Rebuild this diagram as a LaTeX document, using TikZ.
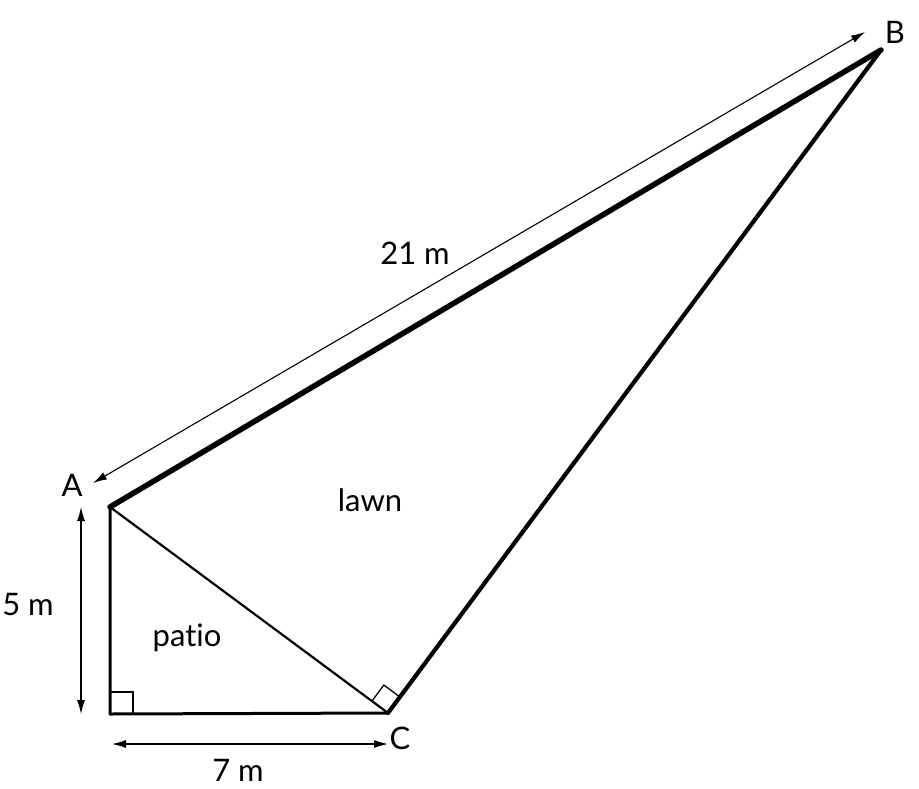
\documentclass[tikz,border=0pt]{standalone}
\usepackage{fontspec}
\setmainfont[Ligatures={NoCommon}]{Lato}
\usetikzlibrary{arrows.meta,calc}
\begin{document}
\begin{tikzpicture}[x=1pt,y=-1pt,
  lbl/.style={font=\fontsize{31}{36}\selectfont, inner sep=0pt},
  dim/.style={line width=1.1pt, {Latex[length=14pt,width=8pt]}-{Latex[length=14pt,width=8pt]}},
  side/.style={line width=3pt, line cap=round, line join=round},
  ramark/.style={line width=1.3pt}]
\useasboundingbox (0,0) rectangle (919,788);
\coordinate (A) at (110,507);
\coordinate (D) at (110,714);
\coordinate (C) at (388,713);
\coordinate (B) at (881,50);
% triangle sides
\draw[side, line width=2.2pt] (A) -- (C);
\draw[side] (A) -- (D) -- (C);
\draw[side, line width=4.2pt] (C) -- (B);
\draw[side, line width=5.5pt] (A) -- (B);
% right angle marks
\draw[ramark] (110,692) -- (133,692) -- (133,714);
\draw[ramark] ($(C)!20pt!(A)$) -- ($(C)!20pt!(A)+(C)!20pt!(B)-(C)$) -- ($(C)!20pt!(B)$);
% dimension arrows
\coordinate (a1) at (93,483);
\coordinate (b1) at (865,32);
\draw[dim] (a1) -- (b1);
\coordinate (v1) at (81,507);
\coordinate (v2) at (81,714);
\draw[dim] (v1) -- (v2);
\coordinate (h1) at (112,744);
\coordinate (h2) at (388,744);
\draw[dim] (h1) -- (h2);
% labels
\node[lbl] (lA) at (72,485) {A};
\node[lbl] (lB) at (895,32) {B};
\node[lbl] (lC) at (400,738) {C};
\node[lbl] (l21) at (415,253) {21 m};
\node[lbl] (lawn) at (370,500) {lawn};
\node[lbl] (patio) at (187,638) {patio};
\node[lbl] (l5) at (28,605) {5 m};
\node[lbl] (l7) at (238,770) {7 m};
\end{tikzpicture}
\end{document}
